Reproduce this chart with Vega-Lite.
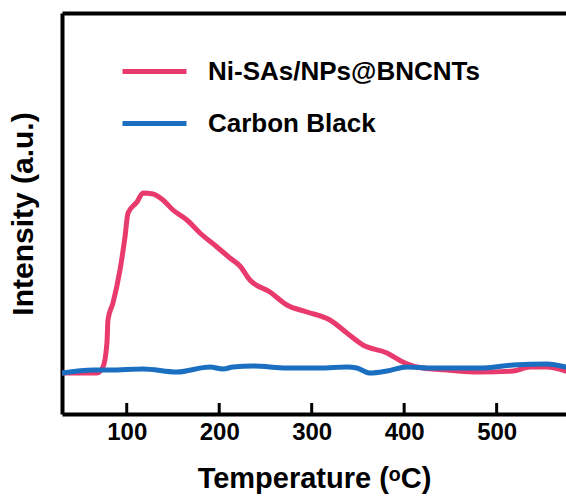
{
  "$schema": "https://vega.github.io/schema/vega-lite/v6.json",
  "width": 504,
  "height": 401,
  "autosize": {"type": "none"},
  "padding": {"left": 62, "top": 13, "right": 0, "bottom": 83},
  "background": "white",
  "config": {
    "view": {"stroke": null},
    "font": "Liberation Sans",
    "axis": {"domainColor": "black", "domainWidth": 4, "grid": false}
  },
  "data": {
    "values": [
      {"series": "Ni-SAs/NPs@BNCNTs", "T": 30, "I": 41},
      {"series": "Ni-SAs/NPs@BNCNTs", "T": 50, "I": 41},
      {"series": "Ni-SAs/NPs@BNCNTs", "T": 67.8, "I": 41},
      {"series": "Ni-SAs/NPs@BNCNTs", "T": 74.3, "I": 47},
      {"series": "Ni-SAs/NPs@BNCNTs", "T": 78.6, "I": 71},
      {"series": "Ni-SAs/NPs@BNCNTs", "T": 79.7, "I": 94},
      {"series": "Ni-SAs/NPs@BNCNTs", "T": 85.1, "I": 111},
      {"series": "Ni-SAs/NPs@BNCNTs", "T": 92.7, "I": 144},
      {"series": "Ni-SAs/NPs@BNCNTs", "T": 98.1, "I": 177},
      {"series": "Ni-SAs/NPs@BNCNTs", "T": 101.4, "I": 201},
      {"series": "Ni-SAs/NPs@BNCNTs", "T": 111.1, "I": 212},
      {"series": "Ni-SAs/NPs@BNCNTs", "T": 117.6, "I": 221},
      {"series": "Ni-SAs/NPs@BNCNTs", "T": 128.4, "I": 220},
      {"series": "Ni-SAs/NPs@BNCNTs", "T": 139.2, "I": 214},
      {"series": "Ni-SAs/NPs@BNCNTs", "T": 150, "I": 204},
      {"series": "Ni-SAs/NPs@BNCNTs", "T": 165.1, "I": 194},
      {"series": "Ni-SAs/NPs@BNCNTs", "T": 179.2, "I": 181},
      {"series": "Ni-SAs/NPs@BNCNTs", "T": 197.6, "I": 167},
      {"series": "Ni-SAs/NPs@BNCNTs", "T": 211.6, "I": 156},
      {"series": "Ni-SAs/NPs@BNCNTs", "T": 222.4, "I": 148},
      {"series": "Ni-SAs/NPs@BNCNTs", "T": 233.2, "I": 134},
      {"series": "Ni-SAs/NPs@BNCNTs", "T": 254.9, "I": 122},
      {"series": "Ni-SAs/NPs@BNCNTs", "T": 273.2, "I": 109},
      {"series": "Ni-SAs/NPs@BNCNTs", "T": 294.9, "I": 102},
      {"series": "Ni-SAs/NPs@BNCNTs", "T": 319.7, "I": 94},
      {"series": "Ni-SAs/NPs@BNCNTs", "T": 338.1, "I": 81},
      {"series": "Ni-SAs/NPs@BNCNTs", "T": 355.4, "I": 69},
      {"series": "Ni-SAs/NPs@BNCNTs", "T": 381.4, "I": 61},
      {"series": "Ni-SAs/NPs@BNCNTs", "T": 398.6, "I": 52},
      {"series": "Ni-SAs/NPs@BNCNTs", "T": 413.8, "I": 47},
      {"series": "Ni-SAs/NPs@BNCNTs", "T": 446.2, "I": 44},
      {"series": "Ni-SAs/NPs@BNCNTs", "T": 481.9, "I": 42},
      {"series": "Ni-SAs/NPs@BNCNTs", "T": 517.6, "I": 43},
      {"series": "Ni-SAs/NPs@BNCNTs", "T": 536, "I": 47},
      {"series": "Ni-SAs/NPs@BNCNTs", "T": 554.3, "I": 47},
      {"series": "Ni-SAs/NPs@BNCNTs", "T": 575, "I": 43},
      {"series": "Carbon Black", "T": 30, "I": 41},
      {"series": "Carbon Black", "T": 63.5, "I": 44},
      {"series": "Carbon Black", "T": 81.9, "I": 44},
      {"series": "Carbon Black", "T": 117.6, "I": 45},
      {"series": "Carbon Black", "T": 154.3, "I": 42},
      {"series": "Carbon Black", "T": 190, "I": 47},
      {"series": "Carbon Black", "T": 204.1, "I": 45},
      {"series": "Carbon Black", "T": 214.9, "I": 47},
      {"series": "Carbon Black", "T": 236.5, "I": 48},
      {"series": "Carbon Black", "T": 273.2, "I": 46},
      {"series": "Carbon Black", "T": 308.9, "I": 46},
      {"series": "Carbon Black", "T": 338.1, "I": 47},
      {"series": "Carbon Black", "T": 348.9, "I": 46},
      {"series": "Carbon Black", "T": 363, "I": 41},
      {"series": "Carbon Black", "T": 381.4, "I": 43},
      {"series": "Carbon Black", "T": 403, "I": 47},
      {"series": "Carbon Black", "T": 427.8, "I": 46},
      {"series": "Carbon Black", "T": 481.9, "I": 46},
      {"series": "Carbon Black", "T": 517.6, "I": 49},
      {"series": "Carbon Black", "T": 554.3, "I": 50},
      {"series": "Carbon Black", "T": 575, "I": 47}
    ]
  },
  "layer": [
    {
      "mark": {"type": "line", "strokeWidth": 5, "interpolate": "monotone", "strokeCap": "round", "clip": true},
      "encoding": {
        "x": {
          "field": "T", "type": "quantitative",
          "scale": {"domain": [30, 575], "nice": false, "zero": false},
          "axis": {
            "orient": "bottom", "values": [100, 200, 300, 400, 500],
            "title": "Temperature (ᵒC)", "titleFontSize": 29, "titleFontWeight": "bold", "titleColor": "black",
            "titlePadding": 20,
            "labelFontSize": 24, "labelFontWeight": "bold", "labelColor": "black", "labelPadding": 6,
            "ticks": false
          }
        },
        "y": {
          "field": "I", "type": "quantitative",
          "scale": {"domain": [0, 401], "nice": false, "zero": false},
          "axis": {
            "title": "Intensity (a.u.)", "titleFontSize": 30, "titleFontWeight": "bold", "titleColor": "black",
            "titlePadding": 24, "labels": false, "ticks": false
          }
        },
        "color": {
          "field": "series", "type": "nominal",
          "scale": {"domain": ["Ni-SAs/NPs@BNCNTs", "Carbon Black"], "range": ["#E93A6E", "#1B6FC0"]},
          "legend": {
            "title": null, "orient": "none", "legendX": 58, "legendY": 24,
            "symbolType": "stroke", "symbolSize": 4096, "symbolStrokeWidth": 5,
            "labelFontSize": 26, "labelFontWeight": "bold", "labelColor": "black", "labelLimit": 0,
            "labelOffset": 19, "rowPadding": 4
          }
        }
      }
    },
    {
      "mark": {"type": "line", "opacity": 0},
      "encoding": {
        "x": {
          "field": "T", "type": "quantitative",
          "axis": {"orient": "top", "labels": false, "ticks": false, "title": null}
        },
        "y": {"field": "I", "type": "quantitative"}
      }
    },
    {
      "data": {"values": [{"T": 100}, {"T": 200}, {"T": 300}, {"T": 400}, {"T": 500}]},
      "mark": {"type": "rule", "strokeWidth": 3, "color": "black"},
      "encoding": {
        "x": {"field": "T", "type": "quantitative", "axis": null},
        "y": {"datum": 0, "type": "quantitative"},
        "y2": {"datum": 11}
      }
    }
  ],
  "resolve": {"axis": {"x": "independent"}}
}
